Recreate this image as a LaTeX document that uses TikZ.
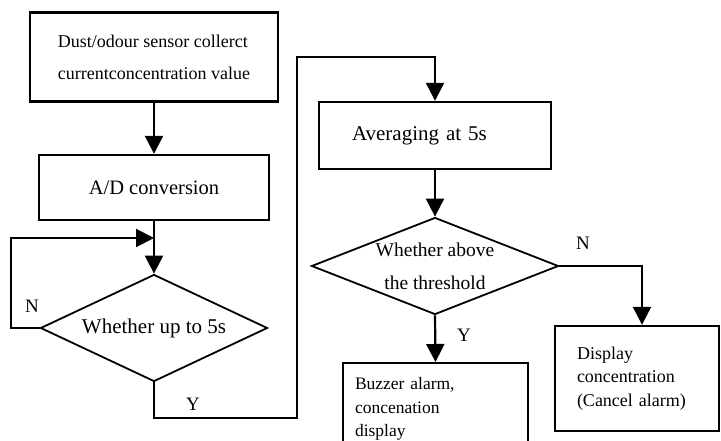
\documentclass[tikz,border=0pt]{standalone}
\usepackage{fontspec}
\setmainfont{Liberation Serif}
\usetikzlibrary{shapes.geometric,arrows.meta}

\tikzset{
  box/.style={draw, line width=2.4pt, rectangle, inner sep=0pt},
  decision/.style={draw, line width=1.8pt, diamond, inner sep=0pt, aspect=2},
  flow/.style={line width=2.2pt, -{Triangle[length=18pt,width=18pt]}},
  yn/.style={font=\fontsize{19}{19}\selectfont}
}

\begin{document}
\begin{tikzpicture}[x=1pt,y=-1pt]
\useasboundingbox (0,0) rectangle (721,441);

% left column
\node[box, minimum width=248pt, minimum height=89pt, align=left, font=\fontsize{18}{32}\selectfont] (sensor) at (154,57) {Dust/odour sensor collerct\\currentconcentration value};
\node[box, minimum width=230pt, minimum height=65pt, font=\fontsize{20.5}{24}\selectfont] (adc) at (154,187.5) {A/D conversion};
\node[decision, minimum width=227pt, minimum height=107pt, label={[font=\fontsize{21}{24}\selectfont]center:Whether up to 5s}] (wait) at (154,328) {};

% right column
\node[box, minimum width=232pt, minimum height=67pt, text width=166pt, align=left, font=\fontsize{21}{25}\selectfont] (avg) at (435,135.5) {Averaging at 5s};
\node[decision, minimum width=247pt, minimum height=97pt, label={[align=center, font=\fontsize{19.5}{33}\selectfont]center:Whether above\\the threshold}] (thresh) at (435,266) {};
\node[box, anchor=north, minimum width=185pt, minimum height=92pt, text width=161pt, align=left, font=\fontsize{17.5}{23.5}\selectfont] (alarm) at (435.5,362) {Buzzer alarm,\\concenation\\display};
\node[box, minimum width=164pt, minimum height=105pt, text width=120pt, align=left, font=\fontsize{18}{23.5}\selectfont] (disp) at (637,378.5) {Display\\concentration\\(Cancel alarm)};

% connectors
\coordinate (nloop) at (11,238);
\coordinate (ydown) at (297,418);
\coordinate (yup) at (297,57);

\draw[flow] (sensor.south) -- (adc.north);
\draw[flow] (adc.south) -- (wait.north);
\draw[flow] (wait.west) -| (nloop) -- (wait.north |- nloop);
\draw[flow] (wait.south) |- (ydown) -- (yup) -| (avg.north);
\draw[flow] (avg.south) -- (thresh.north);
\draw[flow] (thresh.east) -| ([xshift=5pt]disp.north);
\draw[flow] (thresh.south) -- (alarm.north);

% branch labels
\node[yn] (n1) at (32,306) {N};
\node[yn] (y1) at (193,404) {Y};
\node[yn] (n2) at (583,243) {N};
\node[yn] (y2) at (464,335) {Y};

\end{tikzpicture}
\end{document}
